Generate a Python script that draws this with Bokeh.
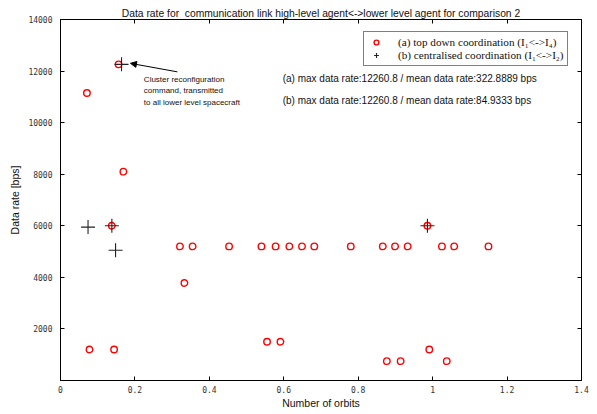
from bokeh.plotting import figure
from bokeh.models import (ColumnDataSource, FixedTicker, LinearAxis, Label, Arrow,
                          NormalHead, Legend, LegendItem)
from bokeh.embed import file_html
from bokeh.resources import INLINE

# ---- data ----
a_orbits = [0.071, 0.156, 0.169, 0.138, 0.078, 0.144, 0.321, 0.355, 0.333, 0.453,
            0.540, 0.555, 0.578, 0.591, 0.615, 0.649, 0.682, 0.780, 0.866, 0.877,
            0.899, 0.914, 0.933, 0.986, 0.991, 1.025, 1.038, 1.058, 1.150]
a_rate = [11150, 12260.8, 8100, 6000, 1200, 1200, 5200, 5200, 3780, 5200,
          5200, 1500, 5200, 1500, 5200, 5200, 5200, 5200, 5200, 750,
          5200, 750, 5200, 6000, 1200, 5200, 750, 5200, 5200]

b_orbits = [0.074, 0.138, 0.148, 0.164, 0.986]
b_rate = [5950, 6000, 5050, 12260.8, 6000]

x_ticks = [0, 0.2, 0.4, 0.6, 0.8, 1.0, 1.2, 1.4]
y_ticks = [0, 2000, 4000, 6000, 8000, 10000, 12000, 14000]

title_text = "Data rate for\u00a0 communication link high-level agent<->lower level agent for comparison 2"
legend_a = "(a) top down coordination (I\u2081<->I\u2084)"
legend_b = "(b) centralised coordination (I\u2081<->I\u2082)"
stats_a = "(a) max data rate:12260.8 / mean data rate:322.8889 bps"
stats_b = "(b) max data rate:12260.8 / mean data rate:84.9333 bps"
note_text = "Cluster reconfiguration\ncommand, transmitted\nto all lower level spacecraft"

# annotation anchors (data units)
stats_x, stats_a_y, stats_b_y = 0.597, 11725, 10870
note_x, note_y = 0.224, 11840
arrow_tail = (0.314, 11970)
arrow_tip = (0.188, 12300)

p = figure(width=597, height=414, x_range=(0, 1.4), y_range=(0, 14000),
           output_backend="svg", toolbar_location=None,
           min_border_left=60, min_border_right=16, min_border_top=19,
           min_border_bottom=34)
p.background_fill_color = "white"
p.border_fill_color = "white"
p.outline_line_color = "black"
p.outline_line_width = 1
p.xgrid.visible = False
p.ygrid.visible = False

p.title.text = title_text
p.title.align = "center"
p.title.text_font = "Liberation Sans"
p.title.text_font_size = "10.3px"
p.title.text_font_style = "normal"
p.title.text_color = "#111111"
p.title.standoff = 1
p.title.offset = 0

tick_font = "DejaVu Sans Mono"

def style_axis(ax, ticks, show_labels=True):
    ax.major_tick_in = 4
    ax.major_tick_out = 0
    ax.minor_tick_line_color = None
    ax.axis_line_color = "black"
    ax.major_tick_line_color = "black"
    ax.major_label_text_font = tick_font
    ax.major_label_text_font_size = "8px"
    ax.major_label_text_color = "#333333"
    if show_labels:
        ax.axis_label_text_font = "Liberation Sans"
        ax.axis_label_text_font_size = "10.5px"
        ax.axis_label_text_font_style = "normal"
        ax.axis_label_text_color = "#111111"
    else:
        ax.major_label_overrides = {t: "" for t in ticks}
        ax.major_label_standoff = 0

p.xaxis.ticker = FixedTicker(ticks=x_ticks)
p.xaxis.axis_label = "Number of orbits"
p.xaxis.major_label_standoff = 5
p.xaxis.axis_label_standoff = 1
style_axis(p.xaxis[0], x_ticks)
p.xaxis.major_label_overrides = {0: "0", 1: "1"}

p.yaxis.ticker = FixedTicker(ticks=y_ticks)
p.yaxis.axis_label = "Data rate [bps]"
p.yaxis.major_label_standoff = 8
p.yaxis.axis_label_standoff = 4
style_axis(p.yaxis[0], y_ticks)
p.yaxis.major_label_overrides = {0: ""}

top = LinearAxis(ticker=FixedTicker(ticks=x_ticks))
style_axis(top, x_ticks, False)
p.add_layout(top, "above")
right = LinearAxis(ticker=FixedTicker(ticks=y_ticks))
style_axis(right, y_ticks, False)
p.add_layout(right, "right")

src_a = ColumnDataSource(dict(x=a_orbits, y=a_rate))
src_b = ColumnDataSource(dict(x=b_orbits, y=b_rate))
r_a = p.scatter("x", "y", source=src_a, marker="circle", size=6.5,
                fill_color=None, line_color="red", line_width=1.4)
r_b = p.scatter("x", "y", source=src_b, marker="cross", size=14,
                line_color="#222222", line_width=1.1)

legend = Legend(items=[LegendItem(label=legend_a, renderers=[r_a]),
                       LegendItem(label=legend_b, renderers=[r_b])],
                location=(303, 314))
legend.margin = 0
legend.padding = 4
legend.spacing = 1
legend.label_height = 12
legend.glyph_height = 12
legend.glyph_width = 16
legend.label_standoff = 14
legend.label_text_font = "Liberation Serif"
legend.label_text_font_size = "11.2px"
legend.label_text_color = "#111111"
legend.border_line_color = "black"
legend.border_line_width = 1
legend.background_fill_color = "white"
legend.background_fill_alpha = 1
p.add_layout(legend)

for txt, yy in ((stats_a, stats_a_y), (stats_b, stats_b_y)):
    p.add_layout(Label(x=stats_x, y=yy, text=txt, text_baseline="middle",
                       text_font="Liberation Sans", text_font_size="10px",
                       text_color="#111111"))

p.add_layout(Label(x=note_x, y=note_y, text=note_text, text_baseline="top",
                   text_font="Liberation Sans", text_font_size="8px",
                   text_color="#111111", text_line_height=1.25))

p.add_layout(Arrow(end=NormalHead(size=6, fill_color="black", line_color="black"),
                   x_start=arrow_tail[0], y_start=arrow_tail[1],
                   x_end=arrow_tip[0], y_end=arrow_tip[1],
                   line_color="black", line_width=1))

open("out.html", "w").write(file_html(p, INLINE))
